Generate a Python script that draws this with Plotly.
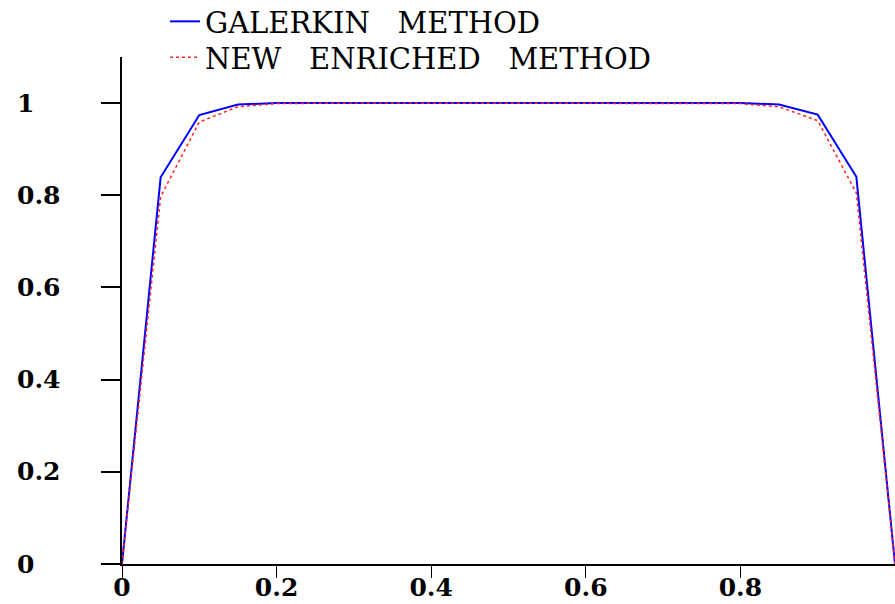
import plotly.graph_objects as go

x_vals = [0, 0.05, 0.1, 0.15, 0.2, 0.25, 0.3, 0.35, 0.4, 0.45, 0.5,
          0.55, 0.6, 0.65, 0.7, 0.75, 0.8, 0.85, 0.9, 0.95, 1.0]
galerkin = [0, 0.839, 0.974, 0.997, 1.0, 1.0, 1.0, 1.0, 1.0, 1.0, 1.0,
            1.0, 1.0, 1.0, 1.0, 1.0, 1.0, 0.997, 0.975, 0.84, 0]
enriched = [0, 0.797, 0.959, 0.992, 0.999, 1.0, 1.0, 1.0, 1.0, 1.0, 1.0,
            1.0, 1.0, 1.0, 1.0, 1.0, 0.999, 0.992, 0.962, 0.805, 0]
x_ticks = [0, 0.2, 0.4, 0.6, 0.8, 1.0]
x_tick_labels = ["0", "0.2", "0.4", "0.6", "0.8", "1"]
y_ticks = [0, 0.2, 0.4, 0.6, 0.8, 1.0]
y_tick_labels = ["0", "0.2", "0.4", "0.6", "0.8", "1"]
sp = "\u00a0\u00a0\u00a0"
names = ["GALERKIN" + sp + "METHOD", "NEW" + sp + "ENRICHED" + sp + "METHOD"]

W, H = 895, 604
L, R, T, B = 122, 0, 57, 40
plot_w = W - L - R
plot_h = H - T - B

tick_font = dict(family="DejaVu Serif", size=25, color="black", weight="bold")
leg_font = dict(family="DejaVu Serif", size=29, color="black")

fig = go.Figure()
fig.add_trace(go.Scatter(x=x_vals, y=galerkin, mode="lines", name=names[0],
                         line=dict(color="#0000ff", width=2), legend="legend"))
fig.add_trace(go.Scatter(x=x_vals, y=enriched, mode="lines", name=names[1],
                         line=dict(color="#ff2020", width=1.5, dash="dot"),
                         legend="legend2"))

for v, t in zip(y_ticks, y_tick_labels):
    fig.add_annotation(x=(15 - L) / plot_w, xref="paper", y=v, yref="y",
                       text=t, showarrow=False, xanchor="left", yanchor="middle",
                       font=tick_font)

leg_common = dict(x=(165 - L) / plot_w, xanchor="left", yanchor="top",
                  font=leg_font, bgcolor="rgba(0,0,0,0)", itemwidth=30)

fig.update_layout(
    width=W, height=H,
    margin=dict(l=L, r=R, t=T, b=B, pad=0, autoexpand=False),
    paper_bgcolor="white", plot_bgcolor="white",
    showlegend=True,
    legend=dict(y=1 + (T + 4) / plot_h, **leg_common),
    legend2=dict(y=1 + (T - 32) / plot_h, **leg_common),
    xaxis=dict(range=[0, 1], tickvals=x_ticks, ticktext=x_tick_labels,
               showgrid=False, zeroline=False, showline=True, linecolor="black",
               linewidth=1.5, ticks="outside", ticklen=12, tickwidth=1.2,
               tickcolor="black", tickfont=tick_font, automargin=False,
               ticklabelstandoff=-12),
    yaxis=dict(range=[0, 1.1], tickvals=y_ticks, showticklabels=False,
               showgrid=False, zeroline=False, showline=True, linecolor="black",
               linewidth=1.5, ticks="outside", ticklen=19, tickwidth=1.5,
               tickcolor="black", automargin=False),
)

fig.write_html("out.html")
